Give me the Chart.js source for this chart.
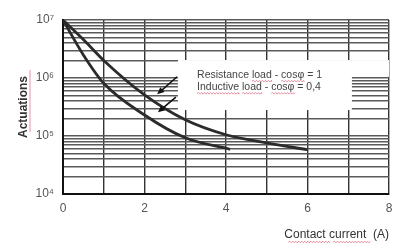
<!DOCTYPE html>
<html><head><meta charset="utf-8">
<script src="https://cdn.jsdelivr.net/npm/chart.js@4"></script>
<style>html,body{margin:0;padding:0;background:#fff}canvas{display:block}</style>
</head><body>
<canvas id="c" width="404" height="244"></canvas>
<script>
// ---- data ----
const xTicks = [0, 1, 2, 3, 4, 5, 6, 7, 8];
const xTickLabels = ['0', '', '2', '', '4', '', '6', '', '8'];
const yTicks = [1e4, 2e4, 3e4, 4e4, 5e4, 6e4, 7e4, 8e4, 9e4,
                1e5, 2e5, 3e5, 4e5, 5e5, 6e5, 7e5, 8e5, 9e5,
                1e6, 2e6, 3e6, 4e6, 5e6, 6e6, 7e6, 8e6, 9e6, 1e7];
const yMajor = [1e4, 1e5, 1e6, 1e7];
const yMajorLabels = ['10\u2074', '10\u2075', '10\u2076', '10\u2077'];
const resistanceX = [0, 0.5, 1, 2, 3, 4, 5, 6];
const resistanceY = [1e7, 4.6e6, 2.0e6, 5.1e5, 1.9e5, 1.05e5, 7.6e4, 5.8e4];
const inductiveX = [0, 0.5, 1, 2, 3, 4.1];
const inductiveY = [1e7, 2.5e6, 8.1e5, 2.3e5, 9.3e4, 5.9e4];
const noteLines = ['Resistance load - cos\u03C6 = 1', 'Inductive load - cos\u03C6 = 0,4'];
const xTitle = 'Contact current  (A)';
const yTitle = 'Actuations';

// ---- annotation layout (data units) ----
const noteBox = {x0: 2.82, x1: 7.09, y0: 2.04e6, y1: 2.8e5};
const noteStrip = {x0: 7.09, x1: 8, y0: 2.04e6, y1: 1.05e6};
const noteText = {x: 3.29, y: [1.12e6, 6.9e5]};
const arrows = [
  {x0: 2.80, y0: 1.05e6, x1: 2.31, y1: 5.25e5},
  {x0: 2.77, y0: 4.7e5, x1: 2.33, y1: 2.57e5}
];

const toPts = (xs, ys) => xs.map((v, i) => ({x: v, y: ys[i]}));
const FONT = '"Liberation Sans", Arial, sans-serif';

function wavy(ctx, x0, x1, y) {
  ctx.beginPath();
  let up = true;
  ctx.moveTo(x0, y);
  for (let x = x0; x < x1; x += 1.5) { ctx.lineTo(Math.min(x + 1.5, x1), y + (up ? -0.8 : 0.8)); up = !up; }
  ctx.stroke();
}

const annot = {
  id: 'annot',
  beforeDatasetsDraw(chart) {
    const {ctx, scales: {x, y}} = chart;
    ctx.save();
    ctx.fillStyle = '#fff';
    for (const b of [noteBox, noteStrip]) {
      const px0 = x.getPixelForValue(b.x0), px1 = x.getPixelForValue(b.x1);
      const py0 = y.getPixelForValue(b.y0), py1 = y.getPixelForValue(b.y1);
      ctx.fillRect(px0, py0, px1 - px0, py1 - py0);
    }
    ctx.restore();
  },
  afterDatasetsDraw(chart) {
    const {ctx, scales: {x, y}} = chart;
    ctx.save();
    ctx.font = '10.5px ' + FONT;
    ctx.fillStyle = '#444';
    ctx.textBaseline = 'middle';
    ctx.textAlign = 'left';
    const tx = x.getPixelForValue(noteText.x);
    noteLines.forEach((t, i) => {
      const ty = y.getPixelForValue(noteText.y[i]);
      ctx.fillText(t, tx, ty);
      ctx.strokeStyle = 'rgba(220,60,90,0.55)';
      ctx.lineWidth = 1;
      const words = t.split(' ');
      let cx = tx;
      words.forEach(w => {
        const ww = ctx.measureText(w).width;
        if (w === 'load' || w.startsWith('cos') || w === 'Inductive') wavy(ctx, cx, cx + ww, ty + 6);
        cx += ww + ctx.measureText(' ').width;
      });
    });
    ctx.strokeStyle = '#111';
    ctx.fillStyle = '#111';
    ctx.lineWidth = 1.6;
    arrows.forEach(a => {
      const x0 = x.getPixelForValue(a.x0), y0 = y.getPixelForValue(a.y0);
      const x1 = x.getPixelForValue(a.x1), y1 = y.getPixelForValue(a.y1);
      const ang = Math.atan2(y1 - y0, x1 - x0);
      const L = 7, W = 3.2;
      ctx.beginPath();
      ctx.moveTo(x0, y0);
      ctx.lineTo(x1 - Math.cos(ang) * L * 0.8, y1 - Math.sin(ang) * L * 0.8);
      ctx.stroke();
      ctx.beginPath();
      ctx.moveTo(x1, y1);
      ctx.lineTo(x1 - Math.cos(ang) * L - Math.sin(ang) * W, y1 - Math.sin(ang) * L + Math.cos(ang) * W);
      ctx.lineTo(x1 - Math.cos(ang) * L + Math.sin(ang) * W, y1 - Math.sin(ang) * L - Math.cos(ang) * W);
      ctx.closePath();
      ctx.fill();
    });
    ctx.restore();
  },
  afterDraw(chart) {
    const {ctx, scales: {x, y}} = chart;
    ctx.save();
    ctx.strokeStyle = 'rgba(220,60,90,0.55)';
    ctx.lineWidth = 1;
    ctx.font = '12px ' + FONT;
    const tw = ctx.measureText(xTitle).width;
    const xs = x.right + 4 - tw;
    const wC = ctx.measureText('Contact').width;
    const wS = ctx.measureText('Contact ').width;
    const wc = ctx.measureText('current').width;
    const ty = x.bottom - 9 + 7;
    wavy(ctx, xs, xs + wC, ty);
    wavy(ctx, xs + wS, xs + wS + wc, ty);
    ctx.font = 'bold 12px ' + FONT;
    const yw = ctx.measureText(yTitle).width;
    const mid = (y.top + y.bottom) / 2 - 6;
    ctx.beginPath();
    ctx.moveTo(30, mid - yw / 2);
    ctx.lineTo(30, mid + yw / 2);
    ctx.stroke();
    ctx.restore();
  }
};

new Chart(document.getElementById('c'), {
  type: 'line',
  data: {
    datasets: [
      {label: 'Resistance load', data: toPts(resistanceX, resistanceY)},
      {label: 'Inductive load', data: toPts(inductiveX, inductiveY)}
    ].map(d => Object.assign(d, {
      borderColor: '#2b2b2b', borderWidth: 2.8, pointRadius: 0, fill: false,
      cubicInterpolationMode: 'monotone'
    }))
  },
  options: {
    responsive: false, animation: false, devicePixelRatio: 1,
    layout: {padding: {left: 0, right: 15, top: 20, bottom: 0}},
    plugins: {legend: {display: false}, tooltip: {enabled: false}},
    scales: {
      x: {
        type: 'linear', min: 0, max: 8,
        afterBuildTicks: s => { s.ticks = xTicks.map(v => ({value: v})); },
        afterFit: s => { s.height = 50; },
        ticks: {
          autoSkip: false, maxRotation: 0, padding: 7, color: '#555',
          font: {family: FONT, size: 12},
          callback: v => xTickLabels[xTicks.indexOf(v)]
        },
        grid: {color: '#333', lineWidth: 1.4, drawTicks: false},
        border: {color: '#111', width: 2},
        title: {display: true, text: xTitle, align: 'end', color: '#333',
                font: {family: FONT, size: 12}, padding: {top: 0, bottom: 2}}
      },
      y: {
        type: 'logarithmic', min: 1e4, max: 1e7,
        afterBuildTicks: s => { s.ticks = yTicks.map(v => ({value: v})); },
        afterFit: s => { s.width = 63; },
        ticks: {
          autoSkip: false, padding: 9, color: '#555',
          font: {family: FONT, size: 12},
          callback: v => { const i = yMajor.indexOf(v); return i >= 0 ? yMajorLabels[i] : ''; }
        },
        grid: {color: '#5a5a5a', lineWidth: 1.5, drawTicks: false},
        border: {color: '#111', width: 2},
        title: {display: true, text: yTitle, color: '#333',
                font: {family: FONT, size: 12, weight: 'bold'}, padding: {top: 16, bottom: 0}}
      }
    }
  },
  plugins: [annot]
});
</script>
</body></html>
